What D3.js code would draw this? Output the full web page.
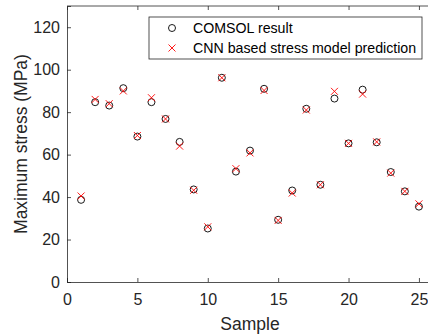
<!DOCTYPE html>
<html>
<head>
<meta charset="utf-8">
<script src="https://cdn.jsdelivr.net/npm/d3@7"></script>
<style>
  body { margin: 0; background: #fff; }
  svg { display: block; font-family: "Liberation Sans", Arial, sans-serif; }
</style>
</head>
<body>
<div id="chart"></div>
<script>
// data
const samples = d3.range(1, 26);
const comsolValues = [38.7, 84.7, 83.1, 91.3, 68.5, 84.7, 76.8, 66.0, 43.6, 25.2,
  96.2, 52.0, 61.9, 91.0, 29.3, 43.1, 81.6, 45.8, 86.4, 65.3, 90.6, 65.8, 51.8, 42.7, 35.5];
const cnnValues = [40.5, 86.0, 84.0, 90.0, 69.0, 86.8, 76.8, 64.0, 43.2, 26.0,
  96.2, 53.4, 60.8, 90.2, 29.0, 41.9, 81.0, 45.8, 89.8, 65.3, 88.5, 66.0, 51.3, 42.7, 36.8];
const xTicks = [0, 5, 10, 15, 20, 25];
const yTicks = [0, 20, 40, 60, 80, 100, 120];
const legendLabels = ["COMSOL result", "CNN based stress model prediction"];

const W = 428, H = 335;
const margin = { top: 6, right: -5, bottom: 53, left: 67 };
const width = W - margin.left - margin.right,
  height = H - margin.top - margin.bottom;
const axisColor = "#262626";

const svg = d3.select("#chart").append("svg")
  .attr("width", W).attr("height", H);
const g = svg.append("g").attr("transform", `translate(${margin.left},${margin.top})`);

const x = d3.scaleLinear().domain([0, 26]).range([0, width]);
const y = d3.scaleLinear().domain([0, 130]).range([height, 0]);

// box top line
g.append("line").attr("x1", 0).attr("x2", width).attr("y1", 0).attr("y2", 0)
  .attr("stroke", axisColor).attr("stroke-width", 0.8);

// bottom axis (ticks inward)
const xAxis = g.append("g").attr("transform", `translate(0,${height})`)
  .call(d3.axisBottom(x).tickValues(xTicks).tickSize(-4).tickPadding(12));
// left axis
const yAxis = g.append("g")
  .call(d3.axisLeft(y).tickValues(yTicks).tickSize(-4).tickPadding(7));
// top ticks
g.append("g").call(d3.axisTop(x).tickValues(xTicks).tickSize(-4).tickFormat(""))
  .select(".domain").remove();

[xAxis, yAxis].forEach(a => {
  a.select(".domain").attr("stroke", axisColor).attr("stroke-width", 0.8);
  a.selectAll("text").attr("fill", axisColor).style("font-size", "16px");
});
g.selectAll(".tick line").attr("stroke", axisColor).attr("stroke-width", 0.8);

// axis labels
svg.append("text").attr("x", margin.left + x(13)).attr("y", 330)
  .attr("text-anchor", "middle").attr("fill", axisColor)
  .style("font-size", "17.5px").text("Sample");
svg.append("text")
  .attr("transform", `translate(27,${margin.top + height / 2}) rotate(-90)`)
  .attr("text-anchor", "middle").attr("fill", axisColor)
  .style("font-size", "17.5px").text("Maximum stress (MPa)");

// markers
const crossPath = s => `M${-s},${-s}L${s},${s}M${-s},${s}L${s},${-s}`;
g.selectAll(".comsol").data(samples).join("circle")
  .attr("class", "comsol")
  .attr("cx", d => x(d)).attr("cy", (d, i) => y(comsolValues[i]))
  .attr("r", 3.5).attr("fill", "none").attr("stroke", "#000").attr("stroke-width", 0.9);
g.selectAll(".cnn").data(samples).join("path")
  .attr("class", "cnn")
  .attr("transform", (d, i) => `translate(${x(d)},${y(cnnValues[i])})`)
  .attr("d", crossPath(3.5)).attr("stroke", "#ff0000").attr("stroke-width", 0.9);

// legend
const legend = svg.append("g").attr("transform", "translate(149,17)");
legend.append("rect").attr("width", 273).attr("height", 42)
  .attr("fill", "#fff").attr("stroke", axisColor).attr("stroke-width", 0.8);
legend.append("circle").attr("cx", 23).attr("cy", 11).attr("r", 3.5)
  .attr("fill", "none").attr("stroke", "#000").attr("stroke-width", 0.9);
legend.append("path").attr("transform", "translate(23,31)")
  .attr("d", crossPath(3.5)).attr("stroke", "#ff0000").attr("stroke-width", 0.9);
legend.selectAll(".lbl").data(legendLabels).join("text")
  .attr("class", "lbl")
  .attr("x", 44).attr("y", (d, i) => 16 + i * 20)
  .attr("fill", "#000").style("font-size", "14.2px").text(d => d);
</script>
</body>
</html>
